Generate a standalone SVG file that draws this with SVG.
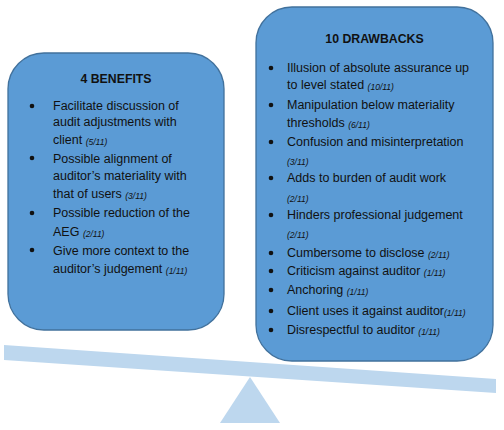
<svg xmlns="http://www.w3.org/2000/svg" width="504" height="430" viewBox="0 0 504 430">
<style>
.box{fill:#5B9BD5;stroke:#41719C;stroke-width:1.3}
.t{font-family:"Liberation Sans",Arial,sans-serif;font-size:12.5px;fill:#111}
.h{font-family:"Liberation Sans",Arial,sans-serif;font-size:12.3px;font-weight:bold;fill:#111}
.s{font-size:8.5px;font-style:italic}
.b{fill:#111}
.sc{fill:#BDD7EE}
</style>
<g id="scale">
<polygon class="sc" points="4,345 496,379 496,393 4,360"/>
<polygon class="sc" points="250,377 280,423 220,423"/>
</g>
<g id="benefits">
<rect class="box" x="8" y="53" width="216" height="277" rx="36" ry="36"/>
<text class="h" x="116" y="83" text-anchor="middle">4 BENEFITS</text>
<circle class="b" cx="32" cy="106" r="2.3"/>
<circle class="b" cx="32" cy="158" r="2.3"/>
<circle class="b" cx="32" cy="213" r="2.3"/>
<circle class="b" cx="32" cy="250" r="2.3"/>
<text class="t" x="53" y="110">Facilitate discussion of</text>
<text class="t" x="53" y="126">audit adjustments with</text>
<text class="t" x="53" y="144">client <tspan class="s" dy="1">(5/11)</tspan></text>
<text class="t" x="53" y="163">Possible alignment of</text>
<text class="t" x="53" y="180">auditor’s materiality with</text>
<text class="t" x="53" y="198">that of users <tspan class="s" dy="1">(3/11)</tspan></text>
<text class="t" x="53" y="217">Possible reduction of the</text>
<text class="t" x="53" y="236">AEG <tspan class="s" dy="1">(2/11)</tspan></text>
<text class="t" x="53" y="255">Give more context to the</text>
<text class="t" x="53" y="273">auditor’s judgement <tspan class="s" dy="1">(1/11)</tspan></text>
</g>
<g id="drawbacks">
<rect class="box" x="256" y="7" width="237" height="354" rx="36" ry="36"/>
<text class="h" x="374.5" y="43" text-anchor="middle">10 DRAWBACKS</text>
<circle class="b" cx="271" cy="68" r="2.3"/>
<circle class="b" cx="271" cy="105" r="2.3"/>
<circle class="b" cx="271" cy="142" r="2.3"/>
<circle class="b" cx="271" cy="178" r="2.3"/>
<circle class="b" cx="271" cy="215" r="2.3"/>
<circle class="b" cx="271" cy="253" r="2.3"/>
<circle class="b" cx="271" cy="271" r="2.3"/>
<circle class="b" cx="271" cy="290" r="2.3"/>
<circle class="b" cx="271" cy="311" r="2.3"/>
<circle class="b" cx="271" cy="330" r="2.3"/>
<text class="t" x="287" y="72">Illusion of absolute assurance up</text>
<text class="t" x="287" y="89">to level stated <tspan class="s" dy="1">(10/11)</tspan></text>
<text class="t" x="287" y="109">Manipulation below materiality</text>
<text class="t" x="287" y="127">thresholds <tspan class="s" dy="1">(6/11)</tspan></text>
<text class="t" x="287" y="146">Confusion and misinterpretation</text>
<text class="t s" x="287" y="165">(3/11)</text>
<text class="t" x="287" y="182">Adds to burden of audit work</text>
<text class="t s" x="287" y="202">(2/11)</text>
<text class="t" x="287" y="219">Hinders professional judgement</text>
<text class="t s" x="287" y="238">(2/11)</text>
<text class="t" x="287" y="257">Cumbersome to disclose <tspan class="s" dy="1">(2/11)</tspan></text>
<text class="t" x="287" y="275">Criticism against auditor <tspan class="s" dy="1">(1/11)</tspan></text>
<text class="t" x="287" y="294">Anchoring <tspan class="s" dy="1">(1/11)</tspan></text>
<text class="t" x="287" y="315">Client uses it against auditor<tspan class="s" dy="1">(1/11)</tspan></text>
<text class="t" x="287" y="334">Disrespectful to auditor <tspan class="s" dy="1">(1/11)</tspan></text>
</g>
</svg>
